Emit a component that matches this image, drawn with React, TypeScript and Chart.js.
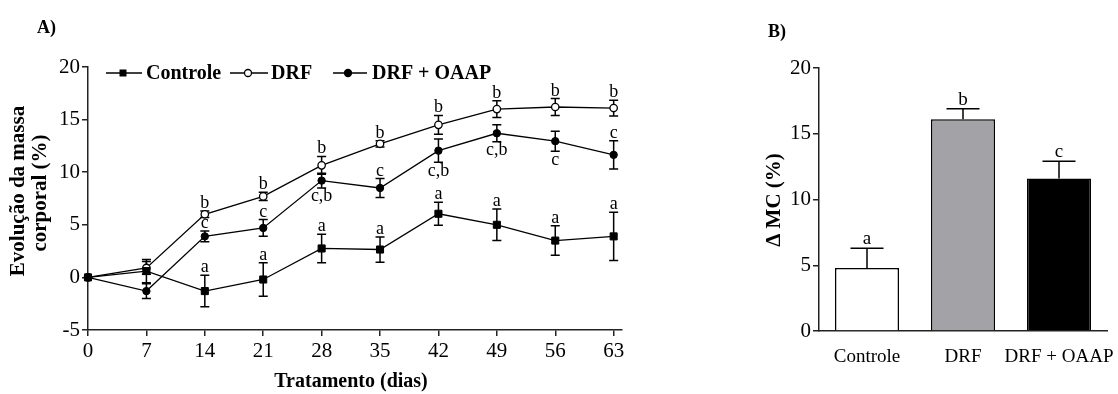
import React, { useEffect, useRef } from "react";
import { Chart, registerables } from "chart.js";
Chart.register(...registerables);

const FONT = "'Liberation Serif', 'Times New Roman', serif";
const AXIS = "#222";

// ---- Panel A data ----
const days = [0, 7, 14, 21, 28, 35, 42, 49, 56, 63];
const controleMean = [0, 0.6, -1.3, -0.2, 2.75, 2.65, 6.05, 5.0, 3.5, 3.9];
const controleErr = [0, 1.1, 1.5, 1.6, 1.35, 1.2, 1.1, 1.5, 1.4, 2.3];
const drfMean = [0, 0.9, 6.0, 7.7, 10.65, 12.7, 14.5, 16.0, 16.2, 16.1];
const drfErr = [0, 0.6, 0.3, 0.4, 0.85, 0.3, 0.9, 0.8, 0.8, 0.75];
const oaapMean = [0, -1.3, 3.9, 4.7, 9.2, 8.5, 12.05, 13.7, 12.95, 11.65];
const oaapErr = [0, 0.7, 0.5, 0.8, 0.7, 0.9, 1.1, 0.8, 0.95, 1.35];

const controleLetters = ["", "", "a", "a", "a", "a", "a", "a", "a", "a"];
const controleLetterPos = ["", "", "up", "up", "up", "up", "up", "up", "up", "up"];
const drfLetters = ["", "", "b", "b", "b", "b", "b", "b", "b", "b"];
const drfLetterPos = ["", "", "up", "up", "up", "up", "up", "up", "up", "up"];
const oaapLetters = ["", "", "c", "c", "c,b", "c", "c,b", "c,b", "c", "c"];
const oaapLetterPos = ["", "", "up", "up", "down", "up", "down", "down", "down", "up"];

const yTicksA = [-5, 0, 5, 10, 15, 20];

// ---- Panel B data ----
const groups = ["Controle", "DRF", "DRF + OAAP"];
const deltaMC = [4.8, 16.1, 11.6];
const deltaErr = [1.5, 0.8, 1.3];
const deltaLetters = ["a", "b", "c"];
const barColors = ["#ffffff", "#a3a2a7", "#000000"];

const series = [
  { mean: controleMean, err: controleErr, letters: controleLetters, pos: controleLetterPos },
  { mean: drfMean, err: drfErr, letters: drfLetters, pos: drfLetterPos },
  { mean: oaapMean, err: oaapErr, letters: oaapLetters, pos: oaapLetterPos },
];

function LeftChart() {
  const ref = useRef<HTMLCanvasElement>(null);
  useEffect(() => {
    const canvas = ref.current!;
    const errPlugin = {
      id: "errA",
      beforeDatasetsDraw(chart: any) {
        const ctx = chart.ctx;
        const xs = chart.scales.x;
        const ys = chart.scales.y;
        ctx.save();
        ctx.strokeStyle = "#000";
        ctx.lineWidth = 1.5;
        series.forEach((s) => {
          s.mean.forEach((m, i) => {
            const e = s.err[i];
            if (!e) return;
            const x = xs.getPixelForValue(days[i]);
            const y1 = ys.getPixelForValue(m + e);
            const y2 = ys.getPixelForValue(m - e);
            ctx.beginPath();
            ctx.moveTo(x, y1);
            ctx.lineTo(x, y2);
            ctx.moveTo(x - 4.5, y1);
            ctx.lineTo(x + 4.5, y1);
            ctx.moveTo(x - 4.5, y2);
            ctx.lineTo(x + 4.5, y2);
            ctx.stroke();
          });
        });
        ctx.restore();
      },
      afterDraw(chart: any) {
        const ctx = chart.ctx;
        const xs = chart.scales.x;
        const ys = chart.scales.y;
        ctx.save();
        ctx.fillStyle = "#000";
        ctx.font = `18px ${FONT}`;
        ctx.textAlign = "center";
        ctx.textBaseline = "alphabetic";
        series.forEach((s) => {
          s.letters.forEach((t, i) => {
            if (!t) return;
            const x = xs.getPixelForValue(days[i]);
            if (s.pos[i] === "up") {
              const y = ys.getPixelForValue(s.mean[i] + s.err[i]);
              ctx.fillText(t, x, y - 3);
            } else {
              const y = ys.getPixelForValue(s.mean[i] - s.err[i]);
              ctx.fillText(t, x, y + 13.5);
            }
          });
        });
        // panel label
        ctx.textAlign = "left";
        ctx.textBaseline = "middle";
        ctx.font = `bold 18px ${FONT}`;
        ctx.fillText("A)", 37, 28);
        // y title
        ctx.font = `bold 21px ${FONT}`;
        ctx.textAlign = "center";
        ctx.save();
        ctx.translate(19, 191);
        ctx.rotate(-Math.PI / 2);
        ctx.fillText("Evolução da massa", 0, 0);
        ctx.restore();
        ctx.save();
        ctx.translate(41, 193);
        ctx.rotate(-Math.PI / 2);
        ctx.fillText("corporal (%)", 0, 0);
        ctx.restore();
        // x title
        ctx.font = `bold 20px ${FONT}`;
        ctx.fillText("Tratamento (dias)", 351, 382);
        // legend
        const ly = 73;
        ctx.strokeStyle = "#000";
        ctx.lineWidth = 1.3;
        const items = [
          { x1: 106, x2: 142, px: 123, style: "rect", text: "Controle", tx: 146 },
          { x1: 230, x2: 268, px: 248, style: "open", text: "DRF", tx: 271 },
          { x1: 333, x2: 367, px: 348, style: "fill", text: "DRF + OAAP", tx: 372 },
        ];
        items.forEach((it) => {
          ctx.beginPath();
          ctx.moveTo(it.x1, ly);
          ctx.lineTo(it.x2, ly);
          ctx.stroke();
          if (it.style === "rect") {
            ctx.fillStyle = "#000";
            ctx.fillRect(it.px - 3.5, ly - 3.5, 7, 7);
          } else {
            ctx.beginPath();
            ctx.arc(it.px, ly, 3.5, 0, Math.PI * 2);
            ctx.fillStyle = it.style === "open" ? "#fff" : "#000";
            ctx.fill();
            ctx.stroke();
          }
          ctx.fillStyle = "#000";
          ctx.font = `bold 20px ${FONT}`;
          ctx.textAlign = "left";
          ctx.textBaseline = "middle";
          ctx.fillText(it.text, it.tx, ly + 1);
        });
        ctx.restore();
      },
    };
    const mk = (mean: number[]) => days.map((d, i) => ({ x: d, y: mean[i] }));
    const chart = new Chart(canvas, {
      type: "line",
      data: {
        datasets: [
          {
            label: "Controle",
            data: mk(controleMean),
            borderColor: "#000",
            borderWidth: 1.3,
            pointStyle: "rect",
            pointRadius: 5,
            pointBackgroundColor: "#000",
            pointBorderColor: "#000",
            pointBorderWidth: 1,
            tension: 0,
            fill: false,
            clip: false,
          } as any,
          {
            label: "DRF",
            data: mk(drfMean),
            borderColor: "#000",
            borderWidth: 1.3,
            pointStyle: "circle",
            pointRadius: 3.7,
            pointBackgroundColor: "#fff",
            pointBorderColor: "#000",
            pointBorderWidth: 1.3,
            tension: 0,
            fill: false,
            clip: false,
          },
          {
            label: "DRF + OAAP",
            data: mk(oaapMean),
            borderColor: "#000",
            borderWidth: 1.3,
            pointStyle: "circle",
            pointRadius: 3.7,
            pointBackgroundColor: "#000",
            pointBorderColor: "#000",
            pointBorderWidth: 1,
            tension: 0,
            fill: false,
            clip: false,
          },
        ],
      },
      options: {
        animation: false,
        responsive: false,
        maintainAspectRatio: false,
        layout: { padding: { top: 67, right: 98, left: 0, bottom: 0 } },
        plugins: { legend: { display: false }, tooltip: { enabled: false } },
        scales: {
          x: {
            type: "linear",
            min: 0,
            max: 64,
            afterBuildTicks: (s: any) => {
              s.ticks = days.map((v) => ({ value: v }));
            },
            afterFit: (s: any) => {
              s.height = 64;
              s.paddingLeft = 0;
              s.paddingRight = 0;
            },
            ticks: { font: { family: FONT, size: 21 }, color: "#000", padding: 3, maxRotation: 0, autoSkip: false },
            grid: { drawOnChartArea: false, drawTicks: true, tickLength: 6, color: AXIS, lineWidth: 1.5 },
            border: { color: AXIS, width: 1.5 },
          },
          y: {
            type: "linear",
            min: -5,
            max: 20,
            afterBuildTicks: (s: any) => {
              s.ticks = yTicksA.map((v) => ({ value: v }));
            },
            afterFit: (s: any) => {
              s.width = 88;
              s.paddingTop = 0;
              s.paddingBottom = 0;
            },
            ticks: { font: { family: FONT, size: 21 }, color: "#000", padding: 2 },
            grid: { drawOnChartArea: false, drawTicks: true, tickLength: 6, color: AXIS, lineWidth: 1.5 },
            border: { color: AXIS, width: 1.5 },
          },
        },
      },
      plugins: [errPlugin],
    });
    return () => chart.destroy();
  }, []);
  return (
    <canvas
      ref={ref}
      width={720}
      height={394}
      style={{ position: "absolute", left: 0, top: 0, width: 720, height: 394 }}
    />
  );
}

function RightChart() {
  const ref = useRef<HTMLCanvasElement>(null);
  useEffect(() => {
    const canvas = ref.current!;
    const plug = {
      id: "errB",
      afterDatasetsDraw(chart: any) {
        const ctx = chart.ctx;
        const xs = chart.scales.x;
        const ys = chart.scales.y;
        ctx.save();
        ctx.strokeStyle = "#000";
        ctx.lineWidth = 1.5;
        ctx.fillStyle = "#000";
        deltaMC.forEach((m, i) => {
          const x = xs.getPixelForValue(i);
          const y0 = ys.getPixelForValue(m);
          const y1 = ys.getPixelForValue(m + deltaErr[i]);
          ctx.beginPath();
          ctx.moveTo(x, y0);
          ctx.lineTo(x, y1);
          ctx.moveTo(x - 16.5, y1);
          ctx.lineTo(x + 16.5, y1);
          ctx.stroke();
          ctx.font = `19px ${FONT}`;
          ctx.textAlign = "center";
          ctx.textBaseline = "alphabetic";
          ctx.fillText(deltaLetters[i], x, y1 - 4);
        });
        ctx.font = `bold 18px ${FONT}`;
        ctx.textAlign = "left";
        ctx.textBaseline = "middle";
        ctx.fillText("B)", 48, 32);
        ctx.font = `bold 21px ${FONT}`;
        ctx.textAlign = "center";
        ctx.translate(55, 200);
        ctx.rotate(-Math.PI / 2);
        ctx.fillText("Δ MC (%)", 0, 0);
        ctx.restore();
      },
    };
    const chart = new Chart(canvas, {
      type: "bar",
      data: {
        labels: groups,
        datasets: [
          {
            data: deltaMC,
            backgroundColor: barColors,
            borderColor: "#000",
            borderWidth: 1.5,
            barPercentage: 0.667,
            categoryPercentage: 1,
          },
        ],
      },
      options: {
        animation: false,
        responsive: false,
        maintainAspectRatio: false,
        layout: { padding: { top: 68, right: 11, left: 0, bottom: 0 } },
        plugins: { legend: { display: false }, tooltip: { enabled: false } },
        scales: {
          x: {
            type: "category",
            afterFit: (s: any) => {
              s.height = 63;
              s.paddingLeft = 0;
              s.paddingRight = 0;
            },
            ticks: { font: { family: FONT, size: 19 }, color: "#000", padding: 15, maxRotation: 0, autoSkip: false },
            grid: { drawOnChartArea: false, drawTicks: false, color: AXIS },
            border: { color: AXIS, width: 1.5 },
          },
          y: {
            type: "linear",
            min: 0,
            max: 20,
            ticks: { stepSize: 5, font: { family: FONT, size: 21 }, color: "#000", padding: 2 },
            afterFit: (s: any) => {
              s.width = 99;
              s.paddingTop = 0;
              s.paddingBottom = 0;
            },
            grid: { drawOnChartArea: false, drawTicks: true, tickLength: 6, color: AXIS, lineWidth: 1.5 },
            border: { color: AXIS, width: 1.5 },
          },
        },
      },
      plugins: [plug],
    });
    return () => chart.destroy();
  }, []);
  return (
    <canvas
      ref={ref}
      width={398}
      height={394}
      style={{ position: "absolute", left: 720, top: 0, width: 398, height: 394 }}
    />
  );
}

export default function App() {
  return (
    <div style={{ position: "absolute", left: 0, top: 0, width: 1118, height: 394, background: "#fff" }}>
      <LeftChart />
      <RightChart />
    </div>
  );
}
